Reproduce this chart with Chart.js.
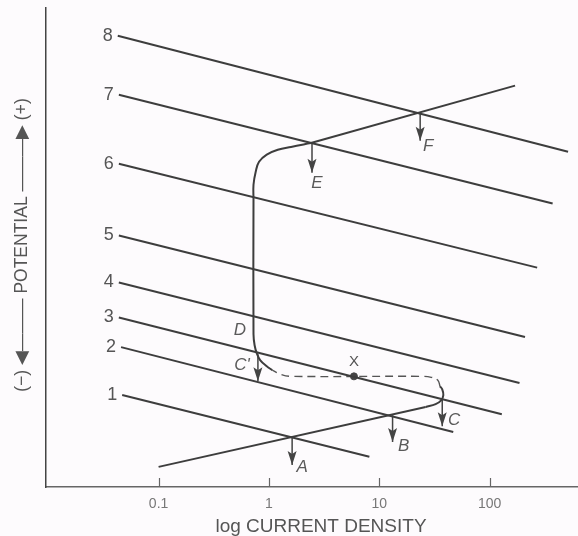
<!DOCTYPE html>
<html><head><meta charset="utf-8">
<script src="https://cdn.jsdelivr.net/npm/chart.js@4"></script>
<style>html,body{margin:0;padding:0;background:#fdfbfd;} canvas{display:block;}</style>
</head><body>
<canvas id="c" width="578" height="536"></canvas>
<script>
// x values: log10(current density); y values: potential (arbitrary units, 0 = bottom of axis)
const tickValues = [-1, 0, 1, 2];
const tickLabels = ['0.1', '1', '10', '100'];
const xTitle = 'log CURRENT DENSITY';
const yTitle = '(\u2212) \u25C0\u2014\u2014\u2014 POTENTIAL \u2014\u2014\u2014\u25B6 (+)';

// cathodic (reduction) lines 1..8
const cathodicNames  = ['1', '2', '3', '4', '5', '6', '7', '8'];
const cathodicStartX = [-1.33, -1.34, -1.36, -1.36, -1.36, -1.36, -1.36, -1.37];
const cathodicStartY = [1.92, 2.92, 3.54, 4.27, 5.25, 6.75, 8.19, 9.42];
const cathodicEndX   = [0.91, 1.67, 2.11, 2.27, 2.32, 2.43, 2.57, 2.71];
const cathodicEndY   = [0.63, 1.15, 1.52, 2.17, 3.13, 4.58, 5.92, 7.00];

// anodic (active-passive) curve
const activeX  = [-1.00, 1.42];
const activeY  = [0.42, 1.67];
const noseX    = [1.42, 1.51, 1.56, 1.58, 1.57, 1.55];
const noseY    = [1.67, 1.73, 1.81, 1.92, 2.04, 2.10];
const dashedX  = [1.55, 1.53, 1.47, 1.39, 0.20, 0.11, 0.03];
const dashedY  = [2.10, 2.23, 2.29, 2.31, 2.31, 2.35, 2.44];
const passiveX = [0.03, -0.02, -0.08, -0.11, -0.13, -0.14, -0.14, -0.14, -0.12, -0.09, -0.02, 0.08, 0.20, 0.38];
const passiveY = [2.44, 2.52, 2.65, 2.79, 2.96, 3.19, 6.00, 6.31, 6.58, 6.79, 6.94, 7.04, 7.10, 7.18];
const transX   = [0.38, 2.23];
const transY   = [7.18, 8.38];

// point X on the dashed branch
const markX = [0.77];
const markY = [2.31];

// corrosion-point arrows
const arrowNames = ['A', 'B', 'C', "C'", 'E', 'F'];
const arrowX     = [0.21, 1.12, 1.57, -0.10, 0.39, 1.37];
const arrowTopY  = [1.04, 1.50, 1.85, 2.77, 7.18, 7.81];
const arrowTipY  = [0.46, 0.94, 1.27, 2.21, 6.56, 7.23];

const LINE = '#3d3d3d';
const pts = (xs, ys) => xs.map((x, i) => ({x: x, y: ys[i]}));

const datasets = [];
cathodicNames.forEach((n, i) => {
  datasets.push({label: 'line ' + n, kind: 'cathodic', name: n,
    data: [{x: cathodicStartX[i], y: cathodicStartY[i]}, {x: cathodicEndX[i], y: cathodicEndY[i]}],
    showLine: true, borderColor: LINE, borderWidth: 2, pointRadius: 0});
});
datasets.push({label: 'active', data: pts(activeX, activeY), showLine: true, borderColor: LINE, borderWidth: 2, pointRadius: 0});
datasets.push({label: 'nose', data: pts(noseX, noseY), showLine: true, tension: 0.4, borderColor: LINE, borderWidth: 2, pointRadius: 0});
datasets.push({label: 'dashed', data: pts(dashedX, dashedY), showLine: true, tension: 0.4, borderColor: '#555', borderWidth: 1.4, borderDash: [8, 5], pointRadius: 0});
datasets.push({label: 'passive', data: pts(passiveX, passiveY), showLine: true, tension: 0.4, borderColor: LINE, borderWidth: 2, pointRadius: 0});
datasets.push({label: 'transpassive', data: pts(transX, transY), showLine: true, borderColor: LINE, borderWidth: 2, pointRadius: 0});
datasets.push({label: 'X', kind: 'mark', data: pts(markX, markY), showLine: false, pointRadius: 3.5, backgroundColor: '#444', borderColor: '#444'});
arrowNames.forEach((n, i) => {
  datasets.push({label: 'arrow ' + n, kind: 'arrow', name: n,
    data: [{x: arrowX[i], y: arrowTopY[i]}, {x: arrowX[i], y: arrowTipY[i]}],
    showLine: true, borderColor: '#444', borderWidth: 1.5, pointRadius: 0});
});

// label offsets (pixels) relative to arrow tip
const letterOffsets = {'A': [10, 2], 'B': [11, 4], 'C': [12, -6], "C'": [-16, -16], 'E': [5, 10], 'F': [8, 6]};

const overlay = {
  id: 'overlay',
  afterDatasetsDraw(chart) {
    const ctx = chart.ctx;
    const xs = chart.scales.x, ys = chart.scales.y;
    ctx.save();
    // inward tick marks
    ctx.strokeStyle = '#666'; ctx.lineWidth = 1.2;
    tickValues.forEach(v => {
      const px = Math.round(xs.getPixelForValue(v)) + 0.5;
      ctx.beginPath(); ctx.moveTo(px, ys.bottom); ctx.lineTo(px, ys.bottom - 9); ctx.stroke();
    });
    ctx.textAlign = 'center'; ctx.textBaseline = 'middle';
    chart.data.datasets.forEach((ds, i) => {
      const meta = chart.getDatasetMeta(i);
      if (ds.kind === 'arrow') {
        const tip = meta.data[1];
        ctx.fillStyle = '#444';
        ctx.beginPath();
        ctx.moveTo(tip.x, tip.y);
        ctx.lineTo(tip.x - 4.5, tip.y - 14);
        ctx.lineTo(tip.x, tip.y - 11);
        ctx.lineTo(tip.x + 4.5, tip.y - 14);
        ctx.closePath(); ctx.fill();
        const off = letterOffsets[ds.name];
        ctx.fillStyle = '#5a5a5a';
        ctx.font = 'italic 17px "Liberation Sans", Arial, sans-serif';
        ctx.fillText(ds.name, tip.x + off[0], tip.y + off[1]);
        if (ds.name === "C'") {
          const top = meta.data[0];
          ctx.fillText('D', top.x - 18, top.y - 24);
        }
      } else if (ds.kind === 'cathodic') {
        const s = meta.data[0];
        ctx.fillStyle = '#555';
        ctx.font = '18px "Liberation Sans", Arial, sans-serif';
        ctx.fillText(ds.name, s.x - 10, s.y);
      } else if (ds.kind === 'mark') {
        const p = meta.data[0];
        ctx.fillStyle = '#555';
        ctx.font = '15px "Liberation Sans", Arial, sans-serif';
        ctx.fillText('X', p.x, p.y - 14);
      }
    });
    // axis titles
    ctx.fillStyle = '#555';
    ctx.font = '19px "Liberation Sans", Arial, sans-serif';
    ctx.fillText(xTitle, 321, 527);
    ctx.translate(22, 245);
    ctx.rotate(-Math.PI / 2);
    ctx.font = '17.5px "Liberation Sans", Arial, sans-serif';
    ctx.fillText(yTitle, 0, 0);
    ctx.restore();
  }
};

new Chart(document.getElementById('c'), {
  type: 'scatter',
  data: {datasets: datasets},
  options: {
    responsive: false, animation: false,
    layout: {autoPadding: false, padding: {top: 8, right: 0, left: 0, bottom: 0}},
    plugins: {legend: {display: false}, tooltip: {enabled: false}},
    scales: {
      x: {
        type: 'linear', min: -2.02, max: 2.8,
        afterBuildTicks: s => { s.ticks = tickValues.map(v => ({value: v})); },
        afterFit: s => { s.height = 49; s.paddingRight = 0; s.paddingLeft = 0; },
        ticks: {callback: v => tickLabels[tickValues.indexOf(v)], color: '#777', padding: 9,
                font: {size: 14, family: '"Liberation Sans", Arial, sans-serif'}, maxRotation: 0, autoSkip: false},
        grid: {drawOnChartArea: false, drawTicks: false},
        border: {color: '#666', width: 1.5}
      },
      y: {
        type: 'linear', min: 0, max: 10,
        afterFit: s => { s.width = 46; s.paddingTop = 0; s.paddingBottom = 0; },
        ticks: {display: false},
        grid: {drawOnChartArea: false, drawTicks: false},
        border: {color: '#444', width: 1.5}
      }
    }
  },
  plugins: [overlay]
});
</script>
</body></html>
